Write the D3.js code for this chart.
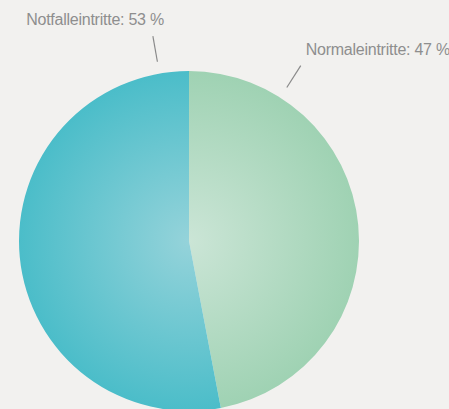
<!DOCTYPE html>
<html>
<head>
<meta charset="utf-8">
<script src="https://cdn.jsdelivr.net/npm/d3@7"></script>
<style>
  html, body { margin: 0; padding: 0; background: #f2f1ef; }
  svg { display: block; }
  text { font-family: "Liberation Sans", Arial, sans-serif; }
</style>
</head>
<body>
<div class="chart"></div>
<script>
var categories = ["Normaleintritte", "Notfalleintritte"];
var values = [47, 53];
var labels = ["Normaleintritte: 47 %", "Notfalleintritte: 53 %"];

var width = 449, height = 409;
var cx = 189, cy = 241, radius = 170;

// colours: edge / centre of each slice
var edgeColors = ["#9fd2b3", "#4bbdc9"];
var centreColors = ["#cbe5d6", "#95d3da"];
// where the leader lines sit (degrees from 12 o'clock)
var labelAngles = [32.5, -10];

var svg = d3.select(".chart")
  .append("svg")
    .attr("width", width)
    .attr("height", height);

var defs = svg.append("defs");
categories.forEach(function(c, i) {
  var g = defs.append("radialGradient")
    .attr("id", "grad" + i)
    .attr("gradientUnits", "userSpaceOnUse")
    .attr("cx", 0).attr("cy", 0).attr("r", radius);
  g.append("stop").attr("offset", "0%").attr("stop-color", centreColors[i]);
  g.append("stop").attr("offset", "100%").attr("stop-color", edgeColors[i]);
});

var pie = d3.pie().sort(null).value(function(d) { return d; });
var arc = d3.arc().innerRadius(0).outerRadius(radius);

var gPie = svg.append("g")
  .attr("transform", "translate(" + cx + "," + cy + ")");

gPie.selectAll("path")
  .data(pie(values))
  .enter().append("path")
    .attr("d", arc)
    .attr("fill", function(d, i) { return "url(#grad" + i + ")"; });

// leader lines + labels
var r1 = 182, r2 = 208;
labelAngles.forEach(function(a, i) {
  var t = a * Math.PI / 180;
  var x1 = Math.sin(t) * r1, y1 = -Math.cos(t) * r1;
  var x2 = Math.sin(t) * r2, y2 = -Math.cos(t) * r2;
  gPie.append("line")
    .attr("x1", x1).attr("y1", y1)
    .attr("x2", x2).attr("y2", y2)
    .attr("stroke", "#8a8a8a")
    .attr("stroke-width", 1.2);
  var right = a > 0;
  gPie.append("text")
    .attr("x", right ? x2 + 5 : x2 + 11)
    .attr("y", right ? y2 - 11 : y2 - 11)
    .attr("text-anchor", right ? "start" : "end")
    .attr("font-size", 16)
    .attr("letter-spacing", "-0.25")
    .attr("fill", "#8e8e8e")
    .text(labels[i]);
});
</script>
</body>
</html>
